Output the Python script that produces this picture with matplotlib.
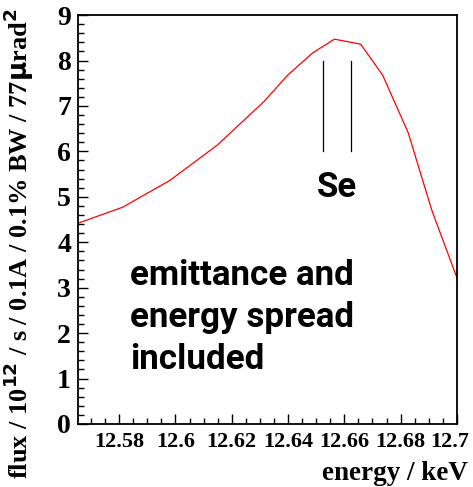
import matplotlib
matplotlib.use("Agg")
import matplotlib.pyplot as plt
from matplotlib.ticker import MultipleLocator, FixedLocator
from matplotlib.transforms import ScaledTranslation

energy = [12.5654, 12.5812, 12.598, 12.6149, 12.6315, 12.6399, 12.6488, 12.6565, 12.6658, 12.6736, 12.6827, 12.6911, 12.7006]
flux = [4.42, 4.77, 5.36, 6.14, 7.10, 7.68, 8.17, 8.47, 8.36, 7.68, 6.41, 4.70, 3.12]

se_lines_x = [12.6526, 12.6625]
se_lines_y = [6.0, 8.0]

xticks = [12.58, 12.60, 12.62, 12.64, 12.66, 12.68, 12.70]
xticklabels = ["12.58", "12.6", "12.62", "12.64", "12.66", "12.68", "12.7"]
yticks = [0, 1, 2, 3, 4, 5, 6, 7, 8, 9]

fig = plt.figure(figsize=(4.73, 4.87), dpi=100)
ax = fig.add_axes([0.165, 0.1294, 0.801, 0.8396])

ax.plot(energy, flux, color="red", lw=0.9)
for xv in se_lines_x:
    ax.plot([xv, xv], se_lines_y, color="black", lw=0.9)

ax.set_xlim(12.5654, 12.7)
ax.set_ylim(0, 9)

serif = dict(family="Liberation Serif", weight="bold")
ax.xaxis.set_major_locator(FixedLocator(xticks))
ax.set_xticklabels(xticklabels, fontsize=16, **serif)
ax.xaxis.set_minor_locator(MultipleLocator(0.005))
ax.yaxis.set_major_locator(FixedLocator(yticks))
ax.set_yticklabels([str(v) for v in yticks], fontsize=20, **serif)
ax.yaxis.set_minor_locator(MultipleLocator(0.2))

ax.tick_params(which="both", direction="in", top=False, right=False, width=1.0)
ax.tick_params(which="major", length=7)
ax.tick_params(axis="x", which="major", pad=6)
ax.tick_params(axis="y", which="major", pad=5)
ax.tick_params(which="minor", length=4)
for s in ax.spines.values():
    s.set_linewidth(1.3)

# nudge the last x tick label left so it stays inside the figure
last = ax.xaxis.get_major_ticks()[-1].label1
last.set_transform(last.get_transform() + ScaledTranslation(-5 / 72, 0, fig.dpi_scale_trans))

fig.text(0.99, 0.028, "energy / keV", ha="right", va="center", fontsize=19.5, **serif)
fig.text(0.040, 0.5, r"flux / 10$^{\mathbf{12}}$ / s / 0.1A / 0.1% BW / 77$\mathbf{\mu}$rad$^{\mathbf{2}}$",
         rotation=90, ha="center", va="center", fontsize=19, **serif)

sans = dict(family="Roboto", weight="bold")
ax.text(12.6575, 5.2, "Se", ha="center", va="center", fontsize=25, **sans)
ax.text(12.5839, 2.35, "emittance and\nenergy spread\nincluded", ha="left", va="center",
        fontsize=25.2, linespacing=1.35, **sans)

fig.savefig("out.png", dpi=100)
